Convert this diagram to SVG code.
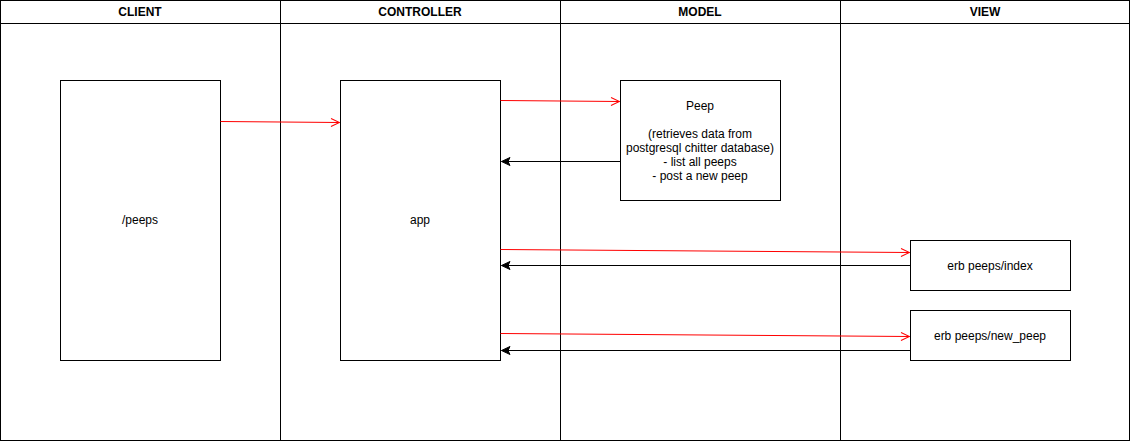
<svg xmlns="http://www.w3.org/2000/svg" width="1130" height="441" viewBox="0 0 1130 441">
<style>
.lane{fill:#fff;stroke:#000;stroke-width:1}
.hd{font-family:"Liberation Sans",Arial,sans-serif;font-size:12px;font-weight:bold;text-anchor:middle;fill:#000}
.box{fill:#fff;stroke:#000;stroke-width:1}
.lbl{font-family:"Liberation Sans",Arial,sans-serif;font-size:12px;text-anchor:middle;fill:#000}
.req{fill:none;stroke:#ff0000;stroke-width:1}
.res{fill:none;stroke:#000;stroke-width:1}
</style>
<defs>
<marker id="open" viewBox="0 0 10 10" refX="9.5" refY="5" markerWidth="10" markerHeight="10" markerUnits="userSpaceOnUse" orient="auto">
<path d="M1,1 L9.5,5 L1,9" fill="none" stroke="#ff0000" stroke-width="1"/>
</marker>
<marker id="fill" viewBox="0 0 10 10" refX="9.5" refY="5" markerWidth="10" markerHeight="10" markerUnits="userSpaceOnUse" orient="auto">
<path d="M1,1 L9.5,5 L1,9 L3,5 Z" fill="#000" stroke="#000" stroke-width="1"/>
</marker>
</defs>
<rect width="1130" height="441" fill="#fff"/>
<g id="lane-client">
<rect class="lane" x="0.5" y="0.5" width="280" height="440"/>
<line x1="0.5" y1="23.5" x2="280.5" y2="23.5" stroke="#000"/>
<text class="hd" x="140" y="16">CLIENT</text>
</g>
<g id="lane-controller">
<rect class="lane" x="280.5" y="0.5" width="280" height="440"/>
<line x1="280.5" y1="23.5" x2="560.5" y2="23.5" stroke="#000"/>
<text class="hd" x="420" y="16">CONTROLLER</text>
</g>
<g id="lane-model">
<rect class="lane" x="560.5" y="0.5" width="280" height="440"/>
<line x1="560.5" y1="23.5" x2="840.5" y2="23.5" stroke="#000"/>
<text class="hd" x="700" y="16">MODEL</text>
</g>
<g id="lane-view">
<rect class="lane" x="840.5" y="0.5" width="289" height="440"/>
<line x1="840.5" y1="23.5" x2="1129.5" y2="23.5" stroke="#000"/>
<text class="hd" x="985" y="16">VIEW</text>
</g>
<g id="node-peeps">
<rect class="box" x="60.5" y="80.5" width="160" height="280"/>
<text class="lbl" x="140" y="224">/peeps</text>
</g>
<g id="node-app">
<rect class="box" x="340.5" y="80.5" width="160" height="280"/>
<text class="lbl" x="420" y="224">app</text>
</g>
<g id="node-peep">
<rect class="box" x="620.5" y="80.5" width="160" height="120"/>
<text class="lbl" x="700" y="110">Peep</text>
<text class="lbl" x="700" y="138">(retrieves data from</text>
<text class="lbl" x="700" y="152">postgresql chitter database)</text>
<text class="lbl" x="700" y="166">- list all peeps</text>
<text class="lbl" x="700" y="180">- post a new peep</text>
</g>
<g id="node-index">
<rect class="box" x="910.5" y="240.5" width="160" height="50"/>
<text class="lbl" x="990" y="270">erb peeps/index</text>
</g>
<g id="node-newpeep">
<rect class="box" x="910.5" y="310.5" width="160" height="50"/>
<text class="lbl" x="990" y="340">erb peeps/new_peep</text>
</g>
<g id="connectors">
<path class="req" d="M220.5,121.5 L339.5,122.5" marker-end="url(#open)"/>
<path class="req" d="M500.5,100.5 L619.5,101.5" marker-end="url(#open)"/>
<path class="res" d="M620.5,161.5 L501.5,161.5" marker-end="url(#fill)"/>
<path class="req" d="M500.5,249.5 L909.5,252.5" marker-end="url(#open)"/>
<path class="res" d="M910.5,265.5 L501.5,265.5" marker-end="url(#fill)"/>
<path class="req" d="M500.5,333.5 L909.5,336.5" marker-end="url(#open)"/>
<path class="res" d="M910.5,350.5 L501.5,350.5" marker-end="url(#fill)"/>
</g>
</svg>
